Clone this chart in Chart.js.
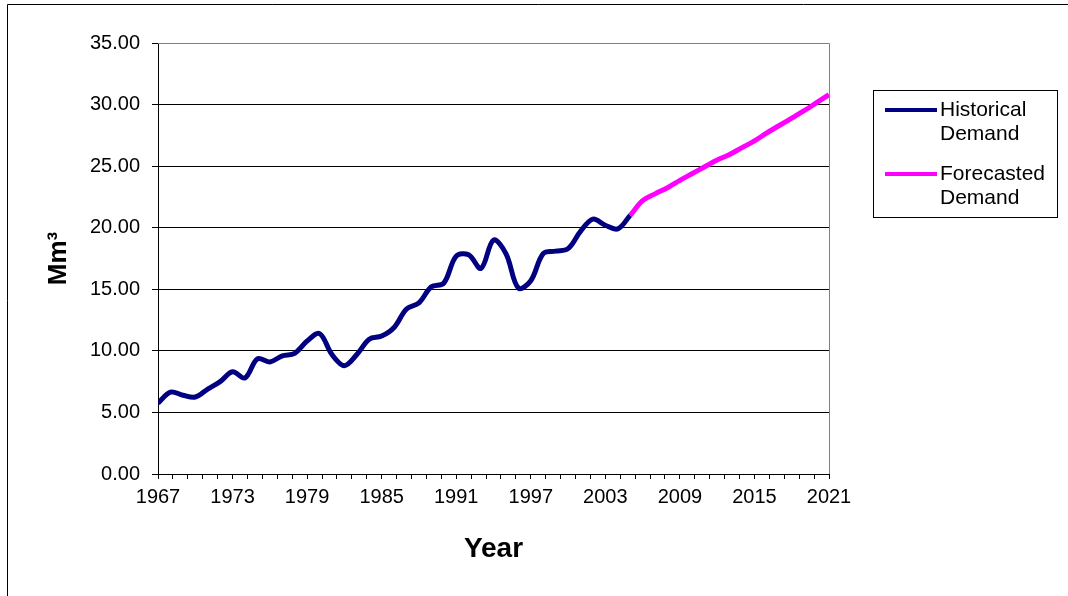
<!DOCTYPE html>
<html>
<head>
<meta charset="utf-8">
<script src="https://cdn.jsdelivr.net/npm/chart.js@4.4.1/dist/chart.umd.min.js"></script>
<style>
  html, body { margin: 0; padding: 0; background: #fff; }
  #wrap { width: 1068px; height: 596px; position: relative; }
</style>
</head>
<body>
<div id="wrap"><canvas id="chart-canvas" width="1068" height="596"></canvas></div>
<script>
'use strict';

// historical demand, one value per year
const histYears = [1967, 1968, 1969, 1970, 1971, 1972, 1973, 1974, 1975, 1976,
    1977, 1978, 1979, 1980, 1981, 1982, 1983, 1984, 1985, 1986,
    1987, 1988, 1989, 1990, 1991, 1992, 1993, 1994, 1995, 1996,
    1997, 1998, 1999, 2000, 2001, 2002, 2003, 2004, 2005];
const histValues = [5.75, 6.65, 6.4, 6.25, 6.9, 7.5, 8.3, 7.8, 9.35, 9.1,
    9.6, 9.8, 10.8, 11.4, 9.7, 8.8, 9.7, 10.95, 11.2, 11.9,
    13.4, 13.9, 15.2, 15.5, 17.7, 17.8, 16.7, 19.0, 17.9, 15.1,
    15.7, 17.9, 18.1, 18.3, 19.7, 20.7, 20.2, 19.9, 21.0];

// forecasted demand
const fcYears = [2005, 2006, 2007, 2008, 2009, 2010, 2011, 2012, 2013,
    2014, 2015, 2016, 2017, 2018, 2019, 2020, 2021];
const fcValues = [21.0, 22.2, 22.75, 23.25, 23.85, 24.4, 24.95, 25.5, 25.95,
    26.5, 27.05, 27.7, 28.3, 28.9, 29.5, 30.15, 30.8];

const xTickLabels = [1967, 1973, 1979, 1985, 1991, 1997, 2003, 2009, 2015, 2021];
const yTickLabels = [0, 5, 10, 15, 20, 25, 30, 35];

const seriesNames = [['Historical', 'Demand'], ['Forecasted', 'Demand']];
const seriesColors = ['#000080', '#FF00FF'];

const FONT = 'Arial, "Liberation Sans", sans-serif';

function toPoints(xs, ys) {
    return xs.map((x, i) => ({ x: x, y: ys[i] }));
}

// outer frame, plot border and the boxed legend
const framePlugin = {
    id: 'frame',
    beforeDatasetsDraw(chart) {
        const ctx = chart.ctx;
        const a = chart.chartArea;
        ctx.save();
        ctx.strokeStyle = '#808080';
        ctx.lineWidth = 1;
        ctx.beginPath();
        ctx.moveTo(a.left, a.top + 0.5);
        ctx.lineTo(a.right + 0.5, a.top + 0.5);
        ctx.lineTo(a.right + 0.5, a.bottom);
        ctx.stroke();
        ctx.restore();
    },
    afterDraw(chart) {
        const ctx = chart.ctx;
        ctx.save();
        // chart border (only top and left are in view)
        ctx.strokeStyle = '#000';
        ctx.lineWidth = 1;
        ctx.beginPath();
        ctx.moveTo(7.5, 600);
        ctx.lineTo(7.5, 4.5);
        ctx.lineTo(1070, 4.5);
        ctx.stroke();
        // legend box
        ctx.strokeStyle = '#000';
        ctx.strokeRect(873.5, 90.5, 184, 127);
        const rows = [[110, 134], [174, 198]];
        ctx.font = '21px ' + FONT;
        ctx.textBaseline = 'middle';
        ctx.fillStyle = '#000';
        chart.data.datasets.forEach((ds, i) => {
            ctx.strokeStyle = ds.borderColor;
            ctx.lineWidth = 4;
            ctx.beginPath();
            ctx.moveTo(885, rows[i][0]);
            ctx.lineTo(937, rows[i][0]);
            ctx.stroke();
            ds.label.forEach((t, j) => ctx.fillText(t, 940, rows[i][j]));
        });
        ctx.restore();
    }
};

const ctx = document.getElementById('chart-canvas').getContext('2d');
const chart = new Chart(ctx, {
    type: 'scatter',
    data: {
        datasets: [{
            label: seriesNames[0],
            data: toPoints(histYears, histValues),
            borderColor: seriesColors[0],
            backgroundColor: seriesColors[0],
            borderWidth: 5,
            showLine: true,
            pointRadius: 0,
            tension: 0.35
        }, {
            label: seriesNames[1],
            data: toPoints(fcYears, fcValues),
            borderColor: seriesColors[1],
            backgroundColor: seriesColors[1],
            borderWidth: 5,
            showLine: true,
            pointRadius: 0,
            tension: 0.35
        }]
    },
    options: {
        responsive: false,
        animation: false,
        layout: { padding: { left: 0, top: 43, right: 239, bottom: 0 } },
        plugins: {
            legend: { display: false },
            tooltip: { enabled: false }
        },
        scales: {
            x: {
                type: 'linear',
                min: xTickLabels[0],
                max: xTickLabels[xTickLabels.length - 1],
                afterBuildTicks(scale) {
                    // major every label, four minor marks between
                    const ticks = [];
                    for (let i = 0; i < xTickLabels.length; i++) {
                        ticks.push({ value: xTickLabels[i] });
                        if (i < xTickLabels.length - 1) {
                            const step = (xTickLabels[i + 1] - xTickLabels[i]) / 5;
                            for (let k = 1; k < 5; k++) ticks.push({ value: xTickLabels[i] + step * k });
                        }
                    }
                    scale.ticks = ticks;
                },
                afterFit(scale) { scale.height = 122; },
                grid: {
                    drawOnChartArea: false,
                    drawTicks: true,
                    tickLength: 5,
                    color: '#000'
                },
                border: { display: true, color: '#000', width: 1 },
                ticks: {
                    autoSkip: false,
                    maxRotation: 0,
                    padding: 6,
                    color: '#000',
                    font: { family: FONT, size: 20 },
                    callback: (v) => xTickLabels.some((t) => Math.abs(t - v) < 1e-6) ? String(Math.round(v)) : ''
                },
                title: {
                    display: true,
                    text: 'Year',
                    color: '#000',
                    font: { family: FONT, size: 28, weight: 'bold' },
                    padding: { top: 0, bottom: 30 }
                }
            },
            y: {
                min: yTickLabels[0],
                max: yTickLabels[yTickLabels.length - 1],
                afterFit(scale) { scale.width = 158; },
                afterBuildTicks(scale) {
                    scale.ticks = yTickLabels.map((v) => ({ value: v }));
                },
                grid: {
                    color: (c) => c.tick && c.tick.value === 35 ? '#808080' : '#000',
                    tickColor: '#000',
                    drawTicks: true,
                    tickLength: 6
                },
                border: { display: true, color: '#000', width: 1 },
                ticks: {
                    padding: 12,
                    color: '#000',
                    font: { family: FONT, size: 20 },
                    callback: (v) => Number(v).toFixed(2)
                },
                title: {
                    display: true,
                    text: 'Mm³',
                    color: '#000',
                    font: { family: FONT, size: 26, weight: 'bold' },
                    padding: { top: 43, bottom: 0 }
                }
            }
        }
    },
    plugins: [framePlugin]
});
</script>
</body>
</html>
